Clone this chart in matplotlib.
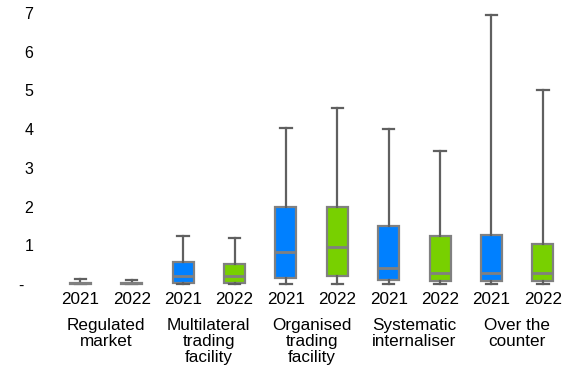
import matplotlib
matplotlib.use("Agg")
import matplotlib.pyplot as plt
import matplotlib.transforms as mtransforms

plt.rcParams["font.family"] = ["Liberation Sans", "DejaVu Sans"]

# five-number summaries, one entry per box
categories = ["Regulated\nmarket", "Multilateral\ntrading\nfacility",
              "Organised\ntrading\nfacility", "Systematic\ninternaliser",
              "Over the\ncounter"]
years = ["2021", "2022"]
whis_lo = [0.0, 0.0, 0.0, 0.0, 0.0, 0.0, 0.0, 0.0, 0.0, 0.0]
q1      = [0.0, 0.0, 0.03, 0.03, 0.17, 0.20, 0.10, 0.09, 0.09, 0.09]
median  = [0.02, 0.02, 0.21, 0.21, 0.83, 0.96, 0.41, 0.30, 0.29, 0.29]
q3      = [0.04, 0.03, 0.58, 0.53, 2.00, 2.00, 1.50, 1.25, 1.28, 1.03]
whis_hi = [0.14, 0.10, 1.25, 1.20, 4.04, 4.56, 4.01, 3.44, 6.95, 5.01]
ytick_labels = ["-  ", "1", "2", "3", "4", "5", "6", "7"]

BLUE = "#0080ff"
GREEN = "#78d000"
COLORS = [BLUE, GREEN] * len(categories)

fig = plt.figure(figsize=(5.66, 3.71), dpi=100)
ax = fig.add_axes([50 / 566, (371 - 288) / 371, 516 / 566, (288 - 13) / 371])

stats = []
for i in range(len(q1)):
    stats.append({"whislo": whis_lo[i], "q1": q1[i], "med": median[i],
                  "q3": q3[i], "whishi": whis_hi[i], "fliers": []})
positions = list(range(1, len(stats) + 1))

bp = ax.bxp(stats, positions=positions, widths=0.41, patch_artist=True,
            showfliers=False,
            boxprops=dict(edgecolor="#808080", linewidth=1.6),
            medianprops=dict(color="#808080", linewidth=2),
            whiskerprops=dict(color="#606060", linewidth=1.6),
            capprops=dict(color="#606060", linewidth=1.6),
            capwidths=0.22)
for patch, c in zip(bp["boxes"], COLORS):
    patch.set_facecolor(c)

ax.set_xlim(0.41, 10.45)
ax.set_ylim(-0.1, 7.0)
ax.set_yticks(range(8))
ax.set_yticklabels(ytick_labels)
ax.set_xticks(positions)
ax.set_xticklabels(years * len(categories))
ax.tick_params(axis="y", length=0, labelsize=11.5, colors="black", pad=12)
ax.tick_params(axis="x", length=0, labelsize=12.3, colors="black", pad=3)
for s in ax.spines.values():
    s.set_visible(False)

trans = mtransforms.blended_transform_factory(ax.transData, ax.transAxes)
for i, name in enumerate(categories):
    xc = 2 * i + 1.5
    ax.text(xc, -0.11, name, transform=trans, ha="center", va="top",
            fontsize=12.3, linespacing=1.08)

plt.savefig("out.png", dpi=100)
plt.close()
